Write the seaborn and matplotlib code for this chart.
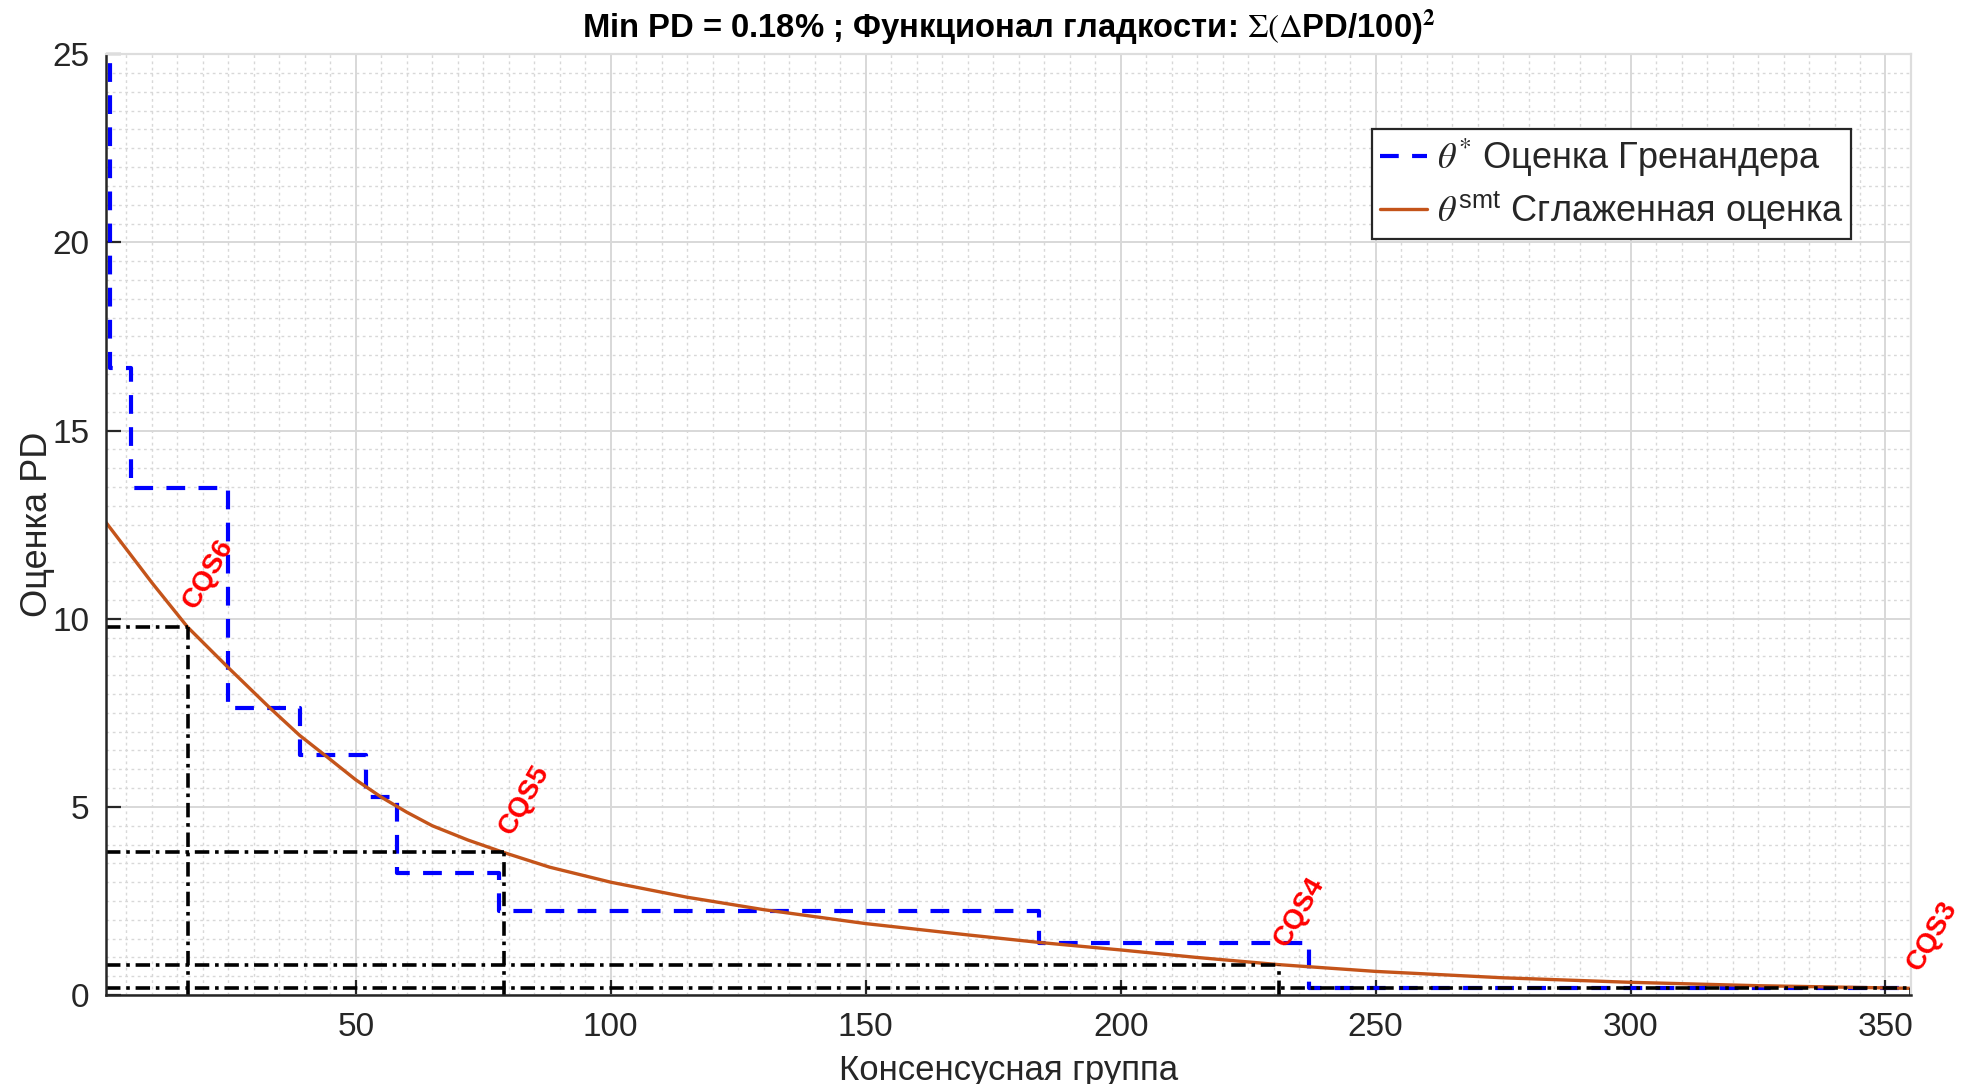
import numpy as np
import pandas as pd
import matplotlib
matplotlib.use("Agg")
import matplotlib.pyplot as plt
from matplotlib.ticker import MultipleLocator
import seaborn as sns

# Grenander step estimate (step breakpoints, steps-post)
GREN_X = [1, 1.7, 6, 25, 39, 52, 58, 78, 184, 237, 355]
GREN_Y = [30.0, 16.67, 13.48, 7.64, 6.37, 5.26, 3.25, 2.24, 1.38, 0.18, 0.18]

# smoothed estimate
SMOOTH_X = [1, 5, 10, 17, 25, 33, 39, 45, 50, 55, 60, 65, 72, 79, 88, 100, 115,
            130, 150, 170, 184, 200, 215, 231, 250, 275, 300, 325, 355]
SMOOTH_Y = [12.56, 11.85, 10.96, 9.78, 8.70, 7.65, 6.90, 6.26, 5.72, 5.26, 4.86,
            4.50, 4.12, 3.79, 3.40, 3.00, 2.60, 2.27, 1.90, 1.60, 1.40, 1.20, 1.00,
            0.81, 0.63, 0.46, 0.34, 0.25, 0.18]

# CQS cut points
CQS_NAMES = ["CQS6", "CQS5", "CQS4", "CQS3"]
CQS_X = [17, 79, 231, 355]
CQS_Y = [9.78, 3.79, 0.81, 0.18]

X_MIN, X_MAX = 1, 355
Y_MIN, Y_MAX = 0, 25

TITLE = r"Min PD = 0.18% ; Функционал гладкости: $\Sigma(\Delta$PD/100)$^\mathbf{2}$"
LABEL_GREN = r"$\theta^{*}$ Оценка Гренандера"
LABEL_SMOOTH = r"$\theta^{\mathregular{smt}}$ Сглаженная оценка"

sns.set_theme(style="whitegrid")
plt.rcParams["font.family"] = ["Liberation Sans", "DejaVu Sans"]
plt.rcParams["mathtext.fontset"] = "stix"

TXT = "#262626"
ORANGE = "#C4541A"

gren_df = pd.DataFrame({"x": GREN_X, "y": GREN_Y})
smooth_df = pd.DataFrame({"x": SMOOTH_X, "y": SMOOTH_Y})

fig = plt.figure(figsize=(9.81, 5.42), dpi=200)
ax = fig.add_axes([0.054, 0.082, 0.920, 0.868])
ax.set_facecolor("white")

sns.lineplot(data=gren_df, x="x", y="y", ax=ax, drawstyle="steps-post",
             color="#0000FF", linewidth=1.5, linestyle=(0, (4.5, 3.2)),
             label=LABEL_GREN, sort=False)
sns.lineplot(data=smooth_df, x="x", y="y", ax=ax, color=ORANGE,
             linewidth=1.2, label=LABEL_SMOOTH, sort=False)

dashdot = (0, (4, 1.6, 1, 1.6))
for name, cx, cy in zip(CQS_NAMES, CQS_X, CQS_Y):
    ax.plot([cx, cx], [Y_MIN, cy], color="black", linewidth=1.3, linestyle=dashdot)
    ax.plot([X_MIN, cx], [cy, cy], color="black", linewidth=1.3, linestyle=dashdot)
    ax.annotate(name, xy=(cx, cy), xytext=(3.0, 6.0), textcoords="offset points",
                color="red", fontsize=10.0, fontweight="bold", rotation=60,
                rotation_mode="anchor", ha="left", va="baseline",
                annotation_clip=False)

ax.set_xlim(X_MIN, X_MAX)
ax.set_ylim(Y_MIN, Y_MAX)
ax.set_xticks([50, 100, 150, 200, 250, 300, 350])
ax.set_yticks([0, 5, 10, 15, 20, 25])
ax.xaxis.set_minor_locator(MultipleLocator(5))
ax.yaxis.set_minor_locator(MultipleLocator(0.5))

ax.grid(which="major", color="#d8d8d8", linewidth=0.7, linestyle="-")
ax.grid(which="minor", color="#d8d8d8", linewidth=0.5, linestyle=(0, (2, 2.5)))
ax.set_axisbelow(True)

ax.tick_params(which="major", direction="in", length=5.5, width=0.8,
               colors=TXT, labelsize=12, top=False, right=False,
               bottom=True, left=True, pad=6)
ax.tick_params(which="minor", length=0)

for side in ["left", "bottom"]:
    ax.spines[side].set_color(TXT)
    ax.spines[side].set_linewidth(0.9)
for side in ["top", "right"]:
    ax.spines[side].set_color("#dddddd")
    ax.spines[side].set_linewidth(0.8)

ax.set_xlabel("Консенсусная группа", fontsize=12.5, color=TXT, labelpad=4)
ax.set_ylabel("Оценка PD", fontsize=13, color=TXT, labelpad=-1)
ax.set_title(TITLE, fontsize=11.8, fontweight="bold", color="black", pad=6)

leg = ax.legend(loc="upper right", bbox_to_anchor=(0.967, 0.92), fontsize=13,
                frameon=True, fancybox=False, framealpha=1, edgecolor=TXT,
                handlelength=1.3, handletextpad=0.3, borderpad=0.2,
                labelspacing=0.3, borderaxespad=0)
leg.get_frame().set_linewidth(0.8)

fig.savefig("out.png", dpi=200, facecolor="white")
